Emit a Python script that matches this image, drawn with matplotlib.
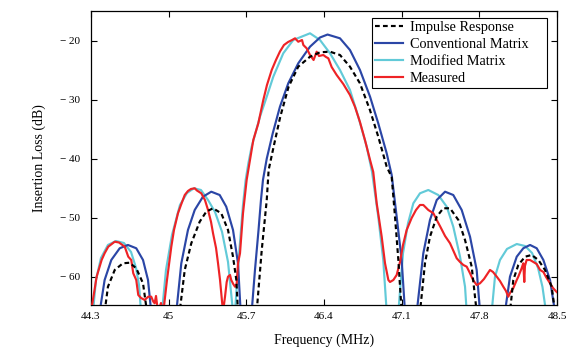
import matplotlib
matplotlib.use("Agg")
import matplotlib.pyplot as plt
import numpy as np

# ---------------------------------------------------------------------------
# Data (-66 = null below the plot floor)
# ---------------------------------------------------------------------------
impulse_f = [44.423, 44.453, 44.514, 44.588, 44.649, 44.708, 44.769, 44.805,
             45.099, 45.145, 45.204, 45.280, 45.339, 45.400, 45.474, 45.535, 45.580, 45.610, 45.625,
             45.793, 45.839, 45.884, 45.901, 45.946, 46.006, 46.081, 46.168, 46.274, 46.364,
             46.454, 46.544, 46.634, 46.724, 46.814, 46.889, 46.965, 47.010, 47.040, 47.070, 47.100,
             47.265, 47.310, 47.355, 47.416, 47.475, 47.536, 47.611, 47.671, 47.731, 47.776,
             48.076, 48.106, 48.151, 48.212, 48.272, 48.332, 48.392, 48.452, 48.482]
impulse_db = [-66, -61.7, -58.86, -57.73, -57.63, -58.58, -61.12, -66,
              -66, -58.86, -54.34, -50.67, -48.98, -48.4, -49.25, -52.08, -56.61, -60.56, -66,
              -66, -55.47, -47.0, -41.91, -37.96, -32.87, -27.79, -24.39, -22.7, -21.95,
              -21.85, -22.41, -24.39, -27.21, -31.74, -36.26, -41.35, -43.1, -49.83, -57.17, -66,
              -66, -57.73, -53.22, -49.83, -48.4, -48.4, -50.39, -53.78, -58.3, -66,
              -66, -60.56, -58.02, -56.61, -56.32, -57.17, -58.86, -61.7, -66]

conv_f = [44.378, 44.423, 44.483, 44.559, 44.633, 44.708, 44.769, 44.814, 44.843,
          45.069, 45.114, 45.174, 45.235, 45.309, 45.384, 45.460, 45.519, 45.580, 45.625, 45.649,
          45.748, 45.778, 45.810, 45.832, 45.850, 45.884, 45.938, 46.003, 46.078, 46.168, 46.274,
          46.364, 46.432, 46.544, 46.634, 46.724, 46.815, 46.889, 46.965, 47.010, 47.055, 47.100, 47.130,
          47.236, 47.295, 47.355, 47.416, 47.491, 47.565, 47.641, 47.716, 47.776, 47.806,
          48.031, 48.076, 48.137, 48.196, 48.257, 48.317, 48.377, 48.437, 48.482]
conv_db = [-66, -60.56, -57.17, -55.18, -54.62, -55.18, -57.17, -60.56, -66,
           -66, -57.73, -52.08, -48.69, -46.44, -45.59, -46.15, -48.13, -52.08, -57.73, -66,
           -66, -58.86, -52.08, -47.0, -43.6, -39.99, -35.69, -31.18, -27.21, -23.82, -21.0,
           -19.44, -18.94, -19.58, -21.56, -24.95, -29.48, -34.0, -39.08, -42.76, -49.83, -57.17, -66,
           -66, -56.03, -50.39, -47.0, -45.59, -46.15, -48.69, -53.22, -58.86, -66,
           -66, -60.0, -56.61, -55.18, -54.62, -55.18, -57.17, -60.56, -66]

mod_f = [44.318, 44.345, 44.390, 44.453, 44.525, 44.597, 44.661, 44.706, 44.733, 44.751,
         44.940, 44.976, 45.030, 45.102, 45.165, 45.228, 45.291, 45.355, 45.418, 45.481, 45.535, 45.580,
         45.598, 45.634, 45.670, 45.694, 45.719, 45.748, 45.823, 45.884, 45.943, 46.033, 46.123,
         46.274, 46.364, 46.454, 46.544, 46.634, 46.709, 46.785, 46.833, 46.889, 46.934, 46.965,
         47.070, 47.112, 47.157, 47.205, 47.265, 47.340, 47.430, 47.506, 47.565, 47.626, 47.671, 47.686,
         47.911, 47.941, 47.986, 48.049, 48.137, 48.212, 48.275, 48.329, 48.369, 48.401]
mod_db = [-66, -60.56, -56.83, -54.62, -53.95, -54.29, -55.81, -58.52, -61.41, -66,
          -66, -58.86, -52.93, -47.84, -45.81, -45.01, -45.3, -47.0, -49.03, -52.4, -57.5, -66,
          -66, -56.32, -47.84, -43.6, -40.72, -37.96, -32.87, -29.48, -26.09, -22.12, -19.87,
          -18.73, -19.87, -22.12, -24.95, -28.34, -32.87, -37.96, -42.25, -49.83, -57.17, -66,
          -66, -56.03, -50.95, -47.56, -45.86, -45.3, -46.15, -48.13, -51.52, -56.61, -61.7, -66,
          -66, -60.0, -57.17, -55.3, -54.46, -54.8, -55.98, -58.52, -61.74, -66]

meas_f = [44.300, 44.351, 44.396, 44.423, 44.456, 44.514, 44.552, 44.604, 44.636, 44.663,
          44.681, 44.708, 44.726, 44.751, 44.784, 44.816, 44.843, 44.862, 44.874, 44.886,
          44.904, 44.931, 44.952, 44.985, 45.024, 45.048, 45.084, 45.111, 45.145, 45.174,
          45.201, 45.235, 45.255, 45.294, 45.327, 45.355, 45.382, 45.400, 45.427, 45.445,
          45.463, 45.474, 45.490, 45.508, 45.523, 45.535, 45.553, 45.564, 45.582, 45.598,
          45.613, 45.625, 45.643, 45.670, 45.703, 45.733, 45.763, 45.808, 45.853, 45.886,
          45.929, 45.967, 46.003, 46.039, 46.076, 46.112, 46.139, 46.168, 46.202, 46.214,
          46.244, 46.274, 46.306, 46.334, 46.355, 46.394, 46.418, 46.439, 46.469, 46.514,
          46.574, 46.634, 46.679, 46.724, 46.769, 46.815, 46.844, 46.875, 46.920, 46.950,
          46.980, 46.995, 47.025, 47.055, 47.085, 47.112, 47.145, 47.190, 47.229, 47.265,
          47.295, 47.340, 47.386, 47.416, 47.448, 47.491, 47.536, 47.563, 47.596, 47.626,
          47.656, 47.686, 47.716, 47.743, 47.776, 47.806, 47.842, 47.896, 47.923, 47.957,
          47.986, 48.016, 48.040, 48.061, 48.076, 48.106, 48.137, 48.151, 48.181, 48.196,
          48.205, 48.211, 48.226, 48.257, 48.287, 48.317, 48.347, 48.377, 48.401, 48.437,
          48.464, 48.497]
meas_db = [-66, -60.0, -57.17, -56.03, -54.91, -54.07, -54.2, -54.91, -56.61, -57.17,
           -59.42, -60.56, -63.1, -63.61, -63.95, -63.39, -63.39, -64.24, -64.51, -63.27,
           -66, -64.46, -66, -60.56, -54.91, -52.08, -49.25, -47.84, -46.15, -45.47,
           -45.13, -45.01, -45.39, -45.86, -47.0, -48.69, -50.72, -52.64, -55.13, -57.73,
           -60.56, -62.81, -66, -63.39, -60.9, -60.0, -59.71, -60.56, -61.24, -61.7,
           -61.24, -57.73, -56.03, -49.25, -43.6, -40.21, -36.82, -34.0, -30.04, -27.5,
           -24.95, -23.26, -21.82, -20.72, -20.21, -19.87, -19.58, -20.16, -19.87, -20.72,
           -21.28, -22.41, -23.26, -21.85, -22.58, -22.41, -22.75, -22.97, -24.45, -25.8,
           -27.33, -29.19, -31.18, -33.77, -36.82, -40.21, -42.25, -47.56, -53.22, -57.73,
           -60.56, -60.9, -60.56, -59.71, -57.51, -54.63, -52.08, -50.05, -48.69, -47.84,
           -47.84, -48.69, -49.25, -50.39, -51.52, -53.1, -54.34, -55.47, -56.88, -57.51,
           -58.02, -58.3, -59.42, -60.56, -61.41, -61.12, -60.39, -58.86, -59.2, -60.0,
           -60.73, -61.7, -62.43, -63.39, -62.76, -61.93, -60.56, -60.0, -58.58, -57.73,
           -60.9, -58.19, -57.17, -57.17, -57.51, -57.85, -58.86, -59.2, -60.05, -61.12,
           -61.92, -62.6]

x_ticks = [44.3, 45.0, 45.7, 46.4, 47.1, 47.8, 48.5]
x_labels = ["44.3", "45", "45.7", "46.4", "47.1", "47.8", "48.5"]
y_ticks = [-60, -50, -40, -30, -20]
y_labels = ["\u2212 60", "\u2212 50", "\u2212 40", "\u2212 30", "\u2212 20"]

# ---------------------------------------------------------------------------
# Style
# ---------------------------------------------------------------------------
plt.rcParams["font.family"] = ["Liberation Serif", "DejaVu Serif"]

C_IMPULSE = "#000000"
C_CONV = "#2B46A6"
C_MOD = "#62CAD8"
C_MEAS = "#EE2326"
LW = 1.55

fig = plt.figure(figsize=(5.78, 3.5), dpi=100)
ax = fig.add_axes([0.1574, 0.1286, 0.8063, 0.8408])

ax.plot(impulse_f, impulse_db, color=C_IMPULSE, lw=LW, ls=(0, (2.2, 1.5)),
        label="Impulse Response", zorder=5)
ax.plot(conv_f, conv_db, color=C_CONV, lw=LW, label="Conventional Matrix", zorder=3)
ax.plot(mod_f, mod_db, color=C_MOD, lw=LW, label="Modified Matrix", zorder=2)
ax.plot(meas_f, meas_db, color=C_MEAS, lw=LW, label="Measured", zorder=4)

ax.set_xlim(44.3, 48.5)
ax.set_ylim(-64.8, -14.9)
ax.set_xticks(x_ticks)
ax.set_xticklabels(x_labels)
ax.set_yticks(y_ticks)
ax.set_yticklabels(y_labels)
ax.tick_params(direction="in", top=True, right=True, length=4, width=0.8,
               labelsize=8, pad=5)
ax.tick_params(axis="y", pad=8)
for sp in ax.spines.values():
    sp.set_linewidth(0.9)

ax.set_xlabel("Frequency (MHz)", fontsize=10, labelpad=9)
ax.set_ylabel("Insertion Loss (dB)", fontsize=10, labelpad=10)

# legend box spans the same region as in the reference, extra room on the right
leg = ax.legend(loc="upper left", bbox_to_anchor=(0.6024, 0.0, 0.3768, 0.9742),
                mode="expand", fontsize=10.3, frameon=True, fancybox=False,
                framealpha=1, edgecolor="black", borderaxespad=0,
                borderpad=0.2, labelspacing=0.28, handlelength=2.0,
                handletextpad=0.45)
leg.get_frame().set_linewidth(0.8)

fig.savefig("out.png", dpi=100)
plt.close(fig)
